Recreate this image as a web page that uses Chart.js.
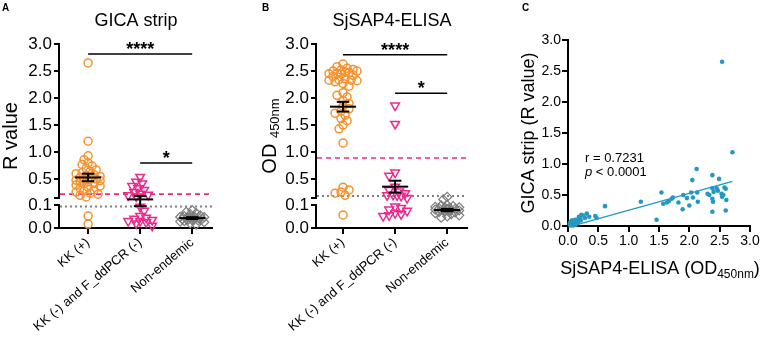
<!DOCTYPE html>
<html><head><meta charset="utf-8">
<script src="https://cdn.jsdelivr.net/npm/chart.js@4.4.1/dist/chart.umd.min.js"></script>
<style>
html,body{margin:0;padding:0;background:#fff;width:770px;height:345px;overflow:hidden;}
canvas{position:absolute;top:0;}
</style></head><body>
<canvas id="cA" width="260" height="345" style="left:0px"></canvas>
<canvas id="cB" width="260" height="345" style="left:260px"></canvas>
<canvas id="cC" width="250" height="345" style="left:520px"></canvas>
<script>
// ---------------- DATA ----------------
const groups = ['KK (+)', 'KK (-) and F_ddPCR (-)', 'Non-endemic'];
const yTicksAB = [0, 0.1, 0.15, 0.5, 1.0, 1.5, 2.0, 2.5, 3.0];
const yBreak = [0.1, 0.15];

// Panel A: GICA strip (R value)
const gicaKKpos = [2.65, 1.2, 0.93, 0.86, 0.8, 0.77, 0.74, 0.7, 0.67, 0.64, 0.62, 0.6, 0.58, 0.56, 0.55, 0.53, 0.52, 0.5, 0.49, 0.48, 0.47, 0.45, 0.44, 0.42, 0.41, 0.39, 0.37, 0.35, 0.33, 0.3, 0.28, 0.26, 0.24, 0.22, 0.2, 0.17, 0.052, 0.017];
const gicaKKneg = [0.54, 0.45, 0.42, 0.37, 0.33, 0.3, 0.26, 0.23, 0.21, 0.2, 0.18, 0.092, 0.075, 0.052, 0.045, 0.04, 0.035, 0.03, 0.03, 0.025, 0.02, 0.01];
const gicaNonEnd = [0.078, 0.07, 0.065, 0.06, 0.055, 0.052, 0.05, 0.048, 0.047, 0.046, 0.045, 0.044, 0.043, 0.042, 0.04, 0.04, 0.038, 0.036, 0.035, 0.033, 0.03, 0.028, 0.025, 0.02, 0.015];
const gicaMean = [0.53, 0.14, 0.043];
const gicaSem = [0.07, 0.045, 0.004];
const gicaCutPink = 0.222;
const gicaCutGray = 0.093;
const gicaSig = [[0, 2, 2.815, '****'], [1, 2, 0.8, '*']];

// Panel B: SjSAP4-ELISA (OD450nm)
const elisaKKpos = [2.63, 2.58, 2.55, 2.53, 2.52, 2.5, 2.5, 2.48, 2.47, 2.46, 2.45, 2.44, 2.42, 2.4, 2.36, 2.34, 2.33, 2.33, 2.32, 2.3, 2.27, 2.22, 2.1, 2.05, 2.02, 1.95, 1.9, 1.85, 1.8, 1.76, 1.72, 1.68, 1.62, 1.58, 1.5, 1.43, 1.17, 0.35, 0.3, 0.26, 0.24, 0.2, 0.057];
const elisaKKneg = [1.86, 1.52, 0.62, 0.56, 0.36, 0.3, 0.27, 0.24, 0.21, 0.2, 0.2, 0.19, 0.15, 0.093, 0.087, 0.08, 0.075, 0.065, 0.06, 0.055, 0.052];
const elisaNonEnd = [0.17, 0.14, 0.1, 0.098, 0.095, 0.092, 0.09, 0.088, 0.086, 0.085, 0.083, 0.082, 0.08, 0.08, 0.078, 0.076, 0.075, 0.072, 0.07, 0.068, 0.065, 0.06, 0.055, 0.05, 0.045];
const elisaMean = [1.84, 0.36, 0.078];
const elisaSem = [0.09, 0.11, 0.005];
const elisaCutPink = 0.889;
const elisaCutGray = 0.185;
const elisaSig = [[0, 2, 2.8, '****'], [1, 2, 2.09, '*']];

// Panel C: correlation
const corrElisa = [2.71, 2.12, 2.38, 2.49, 2.05, 2.45, 2.58, 2.60, 2.38, 2.13, 2.03, 1.90, 2.30, 2.40, 2.53, 2.54, 2.56, 2.61, 2.38, 2.39, 1.54, 1.73, 1.63, 1.66, 1.82, 1.96, 2.06, 2.00, 2.14, 1.89, 1.57, 1.20, 1.46, 2.38, 2.60, 2.54, 1.71, 2.47, 2.33,
  0.61, 0.47, 0.45, 0.31, 0.28, 0.25, 0.22, 0.20, 0.18, 0.17, 0.15, 0.14, 0.12, 0.11, 0.10, 0.09, 0.08, 0.08, 0.07, 0.06, 0.06, 0.05, 0.05, 0.04, 0.04, 0.03, 0.03, 0.10, 0.13, 0.16, 0.21, 0.07, 0.12, 0.35, 0.09];
const corrGica = [1.19, 0.92, 0.82, 0.76, 0.74, 0.61, 0.62, 0.60, 0.61, 0.54, 0.54, 0.50, 0.52, 0.55, 0.52, 0.47, 0.50, 0.42, 0.44, 0.39, 0.54, 0.46, 0.38, 0.40, 0.38, 0.45, 0.46, 0.33, 0.39, 0.27, 0.36, 0.39, 0.10, 0.23, 0.25, 2.65, 0.44, 0.57, 0.50,
  0.32, 0.13, 0.16, 0.20, 0.13, 0.17, 0.18, 0.12, 0.15, 0.08, 0.10, 0.05, 0.07, 0.03, 0.08, 0.05, 0.02, 0.06, 0.04, 0.08, 0.03, 0.05, 0.01, 0.06, 0.03, 0.04, 0.02, 0.04, 0.02, 0.05, 0.09, 0.09, 0.10, 0.15, 0.01];
const fitElisa = [0.03, 2.71];
const fitGica = [-0.01, 0.72];
const corrR = 'r = 0.7231';
const corrP = '< 0.0001';

// ---------------- STYLE ----------------
const FONT = '"Liberation Sans", Arial, Helvetica, sans-serif';
Chart.defaults.font.family = FONT;
Chart.defaults.color = '#000';
const ORANGE = '#f5922e', PINK = '#ec2a8c', GRAY = '#7d7d7d', TEAL = '#2598c2';

// Broken (piecewise) linear scale for panels A and B
class BrokenScale extends Chart.LinearScale {
  buildTicks() { return yTicksAB.map(v => ({ value: v })); }
  _segs() {
    return [[0, yBreak[0], 23], [yBreak[0], yBreak[1], 7], [yBreak[1], this.max, 154]];
  }
  _dec(v) {
    const segs = this._segs();
    const tot = segs.reduce((s, g) => s + g[2], 0);
    let acc = 0;
    for (let i = 0; i < segs.length; i++) {
      const [a, b, w] = segs[i];
      if (v <= b || i === segs.length - 1) return (acc + (v - a) / (b - a) * w) / tot;
      acc += w;
    }
  }
  getPixelForValue(v) {
    if (v === null || v === undefined || isNaN(v)) return NaN;
    return this.getPixelForDecimal(this._dec(v));
  }
  getValueForPixel(p) {
    const d = this.getDecimalForPixel(p);
    const segs = this._segs();
    const tot = segs.reduce((s, g) => s + g[2], 0);
    let acc = 0;
    for (let i = 0; i < segs.length; i++) {
      const [a, b, w] = segs[i];
      if (d * tot <= acc + w || i === segs.length - 1) return a + (d * tot - acc) / w * (b - a);
      acc += w;
    }
  }
}
BrokenScale.id = 'broken';
BrokenScale.defaults = {};
Chart.register(BrokenScale);

function seg(x1, y1, x2, y2, color, width, dash, order) {
  return { data: [{ x: x1, y: y1 }, { x: x2, y: y2 }], showLine: true, borderColor: color, borderWidth: width,
    borderDash: dash || [], pointRadius: 0, pointHoverRadius: 0, order: order, clip: false };
}

function drawLabel(ctx, x, y, rot, parts, align) {
  ctx.save();
  ctx.translate(x, y);
  ctx.rotate(rot);
  let tot = 0;
  parts.forEach(p => { ctx.font = p.font; p.w = ctx.measureText(p.text).width; tot += p.w; });
  let cx = align === 'left' ? 0 : -tot / 2;
  ctx.textAlign = 'left';
  ctx.textBaseline = 'alphabetic';
  ctx.fillStyle = '#000';
  parts.forEach(p => { ctx.font = p.font; ctx.fillText(p.text, cx, p.dy || 0); cx += p.w; });
  ctx.restore();
}

// deterministic swarm layout: horizontal offsets (pixels) so markers overlap less
function beeswarm(chart, dsIndex, center, values, minDist, step, cap) {
  const xs = chart.scales.x, ys = chart.scales.y;
  const ppu = xs.getPixelForValue(1) - xs.getPixelForValue(0);
  const idx = values.map((v, i) => i).sort((a, b) => values[b] - values[a]);
  const placed = [];
  const out = new Array(values.length);
  let flip = 1;
  for (const i of idx) {
    const py = ys.getPixelForValue(values[i]);
    let chosen = null, best = 0, bestD = -1;
    for (let k = 0; ; k++) {
      const off = k === 0 ? 0 : (k % 2 ? flip : -flip) * Math.ceil(k / 2) * step;
      if (Math.abs(off) > cap) break;
      let d = Infinity;
      placed.forEach(p => { d = Math.min(d, Math.hypot(p.px - off, p.py - py)); });
      if (d >= minDist) { chosen = off; break; }
      if (d > bestD + 0.3) { bestD = d; best = off; }
    }
    if (chosen === null) chosen = best;
    flip = -flip;
    placed.push({ px: chosen, py: py });
    out[i] = { x: center + chosen / ppu, y: values[i] };
  }
  chart.data.datasets[dsIndex].data = out;
}

function groupChart(id, o) {
  const ds = [];
  const pointSets = [
    { vals: o.g[0], style: 'circle', color: ORANGE, r: 4, rot: 0, bw: 1.5 },
    { vals: o.g[1], style: 'triangle', color: PINK, r: 5, rot: 180, bw: 1.5 },
    { vals: o.g[2], style: 'rectRot', color: GRAY, r: 4.5, rot: 0, bw: 1.2 }
  ];
  pointSets.forEach((p, i) => {
    ds.push({ data: p.vals.map(v => ({ x: i, y: v })), pointStyle: p.style, pointRadius: p.r, pointRotation: p.rot,
      pointBorderColor: p.color, pointBackgroundColor: 'rgba(255,255,255,0)', pointBorderWidth: p.bw,
      borderColor: p.color, backgroundColor: 'rgba(255,255,255,0)', showLine: false, order: 1, clip: false });
  });
  o.mean.forEach((m, i) => {
    const s = o.sem[i];
    ds.push(seg(i - 0.25, m, i + 0.25, m, '#000', 2, null, 0));
    ds.push(seg(i, m - s, i, m + s, '#000', 2, null, 0));
    ds.push(seg(i - 0.12, m + s, i + 0.12, m + s, '#000', 2, null, 0));
    ds.push(seg(i - 0.12, m - s, i + 0.12, m - s, '#000', 2, null, 0));
  });
  ds.push(seg(o.xmin, o.cutPink, o.xmax, o.cutPink, PINK, 1.6, [5, 4], 2));
  ds.push(seg(o.xmin, o.cutGray, o.xmax, o.cutGray, '#808080', 2, [2, 3], 2));
  o.sig.forEach(s => ds.push(seg(s[0], s[2], s[1], s[2], '#000', 1.5, null, 0)));

  const decor = {
    id: 'decor',
    afterDraw(chart) {
      const { ctx, chartArea: ca, scales: { x, y } } = chart;
      ctx.save();
      ctx.strokeStyle = '#000'; ctx.lineWidth = 2;
      const ax = Math.round(ca.left) - 1;
      ctx.beginPath();
      ctx.moveTo(ax, y.getPixelForValue(0) + 1); ctx.lineTo(ax, y.getPixelForValue(yBreak[0]) - 1);
      ctx.moveTo(ax, y.getPixelForValue(yBreak[1]) + 1); ctx.lineTo(ax, y.getPixelForValue(3) - 1);
      ctx.stroke();
      ctx.fillStyle = '#000'; ctx.textAlign = 'center'; ctx.textBaseline = 'alphabetic';
      ctx.font = 'bold 18px ' + FONT;
      o.sig.forEach(s => ctx.fillText(s[3], (x.getPixelForValue(s[0]) + x.getPixelForValue(s[1])) / 2, y.getPixelForValue(s[2]) + 1));
      ctx.font = '18px ' + FONT;
      ctx.fillText(o.title, (ca.left + ca.right) / 2, 26);
      ctx.font = 'bold 10px ' + FONT; ctx.textAlign = 'left';
      ctx.fillText(o.letter, 2, 11);
      ctx.restore();
      drawLabel(ctx, o.ytX, (ca.top + ca.bottom) / 2, -Math.PI / 2, o.yTitle);
    }
  };

  const chart = new Chart(document.getElementById(id), {
    type: 'scatter',
    data: { datasets: ds },
    options: {
      responsive: false, animation: false, events: [],
      layout: { padding: { left: 0, top: 44, right: o.padRight, bottom: 0 } },
      plugins: { legend: { display: false }, tooltip: { enabled: false } },
      scales: {
        x: {
          type: 'linear', min: o.xmin, max: o.xmax,
          afterBuildTicks: s => { s.ticks = [0, 1, 2].map(v => ({ value: v })); },
          afterFit: s => { s.height = 117; },
          ticks: { callback: v => groups[v], autoSkip: false, minRotation: 40, maxRotation: 40, font: { size: 13 }, color: '#000', padding: 1 },
          grid: { drawOnChartArea: false, drawTicks: true, tickLength: 6, color: '#000', lineWidth: 2 },
          border: { display: true, color: '#000', width: 2 }
        },
        y: {
          type: 'broken', min: 0, max: 3,
          afterFit: s => { s.width = o.yWidth; },
          ticks: { callback: v => (v === 0.15 ? '' : v.toFixed(1)), autoSkip: false, font: { size: 17 }, color: '#000', padding: 2 },
          grid: { drawOnChartArea: false, drawTicks: true, tickLength: 6, color: '#000', lineWidth: 2 },
          border: { display: false }
        }
      }
    },
    plugins: [decor]
  });
  beeswarm(chart, 0, 0, o.g[0], 5, 2, o.caps[0]);
  beeswarm(chart, 1, 1, o.g[1], 5.5, 2, o.caps[1]);
  beeswarm(chart, 2, 2, o.g[2], 4.5, 2, o.caps[2]);
  chart.update('none');
  return chart;
}

groupChart('cA', {
  g: [gicaKKpos, gicaKKneg, gicaNonEnd], mean: gicaMean, sem: gicaSem,
  cutPink: gicaCutPink, cutGray: gicaCutGray, sig: gicaSig, caps: [13, 12, 12],
  xmin: -0.54, xmax: 2.38, padRight: 48, yWidth: 60,
  title: 'GICA strip', letter: 'A', ytX: 17,
  yTitle: [{ text: 'R value', font: '20px ' + FONT }]
});
groupChart('cB', {
  g: [elisaKKpos, elisaKKneg, elisaNonEnd], mean: elisaMean, sem: elisaSem,
  cutPink: elisaCutPink, cutGray: elisaCutGray, sig: elisaSig, caps: [15, 12, 12],
  xmin: -0.5, xmax: 2.38, padRight: 53, yWidth: 57,
  title: 'SjSAP4-ELISA', letter: 'B', ytX: 16,
  yTitle: [{ text: 'OD ', font: '20px ' + FONT }, { text: '450nm', font: '13px ' + FONT, dy: 3 }]
});

// Panel C
const cDecor = {
  id: 'cdecor',
  afterDraw(chart) {
    const { ctx, chartArea: ca } = chart;
    ctx.save();
    ctx.fillStyle = '#000';
    ctx.font = 'bold 10px ' + FONT; ctx.textAlign = 'left'; ctx.textBaseline = 'alphabetic';
    ctx.fillText('C', 2, 11);
    ctx.restore();
    drawLabel(ctx, 65, 162, 0, [{ text: corrR, font: '13px ' + FONT }], 'left');
    drawLabel(ctx, 65, 176, 0, [{ text: 'p', font: 'italic 13px ' + FONT }, { text: ' ' + corrP, font: '13px ' + FONT }], 'left');
    drawLabel(ctx, 14, (ca.top + ca.bottom) / 2, -Math.PI / 2, [{ text: 'GICA strip (R value)', font: '18px ' + FONT }]);
    drawLabel(ctx, (ca.left + ca.right) / 2 + 1, 274, 0, [
      { text: 'SjSAP4-ELISA (OD', font: '18px ' + FONT },
      { text: '450nm', font: '12px ' + FONT, dy: 4 },
      { text: ')', font: '18px ' + FONT }]);
  }
};
new Chart(document.getElementById('cC'), {
  type: 'scatter',
  data: {
    datasets: [
      { data: corrElisa.map((v, i) => ({ x: v, y: corrGica[i] })), pointRadius: 2.3, pointBorderWidth: 0,
        pointBackgroundColor: TEAL, backgroundColor: TEAL, borderColor: TEAL, order: 1, clip: false },
      seg(fitElisa[0], fitGica[0], fitElisa[1], fitGica[1], TEAL, 1.5, null, 0)
    ]
  },
  options: {
    responsive: false, animation: false, events: [],
    layout: { padding: { left: 0, top: 40, right: 20, bottom: 0 } },
    plugins: { legend: { display: false }, tooltip: { enabled: false } },
    scales: {
      x: {
        type: 'linear', min: 0, max: 3,
        afterFit: s => { s.height = 119; },
        ticks: { stepSize: 0.5, callback: v => v.toFixed(1), font: { size: 14 }, color: '#000', padding: 1, maxRotation: 0, autoSkip: false },
        grid: { drawOnChartArea: false, drawTicks: true, tickLength: 6, color: '#000', lineWidth: 2 },
        border: { display: true, color: '#000', width: 2 }
      },
      y: {
        type: 'linear', min: 0, max: 3,
        afterFit: s => { s.width = 48; },
        ticks: { stepSize: 0.5, callback: v => v.toFixed(1), font: { size: 14 }, color: '#000', padding: 1, autoSkip: false },
        grid: { drawOnChartArea: false, drawTicks: true, tickLength: 6, color: '#000', lineWidth: 2 },
        border: { display: true, color: '#000', width: 2 }
      }
    }
  },
  plugins: [cDecor]
});
</script>
</body></html>
